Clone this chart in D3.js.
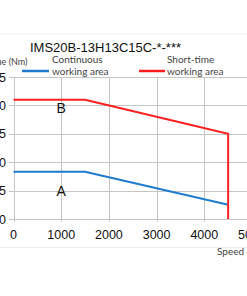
<!DOCTYPE html>
<html>
<head>
<meta charset="utf-8">
<script src="https://cdn.jsdelivr.net/npm/d3@7"></script>
<style>
  body { margin: 0; background: #fff; }
  svg { display: block; }
</style>
</head>
<body>
<script>
// values
var xTicks = [0, 1000, 2000, 3000, 4000, 5000];
var yTicks = [0, 5, 10, 15, 20, 25];
var contSpeed = [0, 1500, 4500];
var contTorque = [8.3, 8.3, 2.5];
var shortSpeed = [0, 1500, 4500, 4500];
var shortTorque = [21, 21, 15, 0];
var areaLabels = ["B", "A"];
var areaLabelX = [1000, 1000];
var areaLabelY = [19.5, 4.9];

var width = 247, height = 296;

var svg = d3.select("body").append("svg")
    .attr("width", width)
    .attr("height", height);

var x = d3.scaleLinear().domain([0, 5000]).range([13.5, 252]);
var y = d3.scaleLinear().domain([0, 25]).range([219, 77]);

// faint frame lines
svg.append("line").attr("x1", 0).attr("x2", width).attr("y1", 34).attr("y2", 34)
  .attr("style", "stroke:#f0f0f0;stroke-width:1px;");
svg.append("line").attr("x1", 0).attr("x2", width).attr("y1", 247.5).attr("y2", 247.5)
  .attr("style", "stroke:#ececec;stroke-width:1px;");

// grid
svg.selectAll(".hgrid")
  .data(yTicks)
  .enter().append("line")
  .attr("class", "hgrid")
  .attr("x1", 9).attr("x2", width)
  .attr("y1", function(d) { return Math.round(y(d)) + 0.5; })
  .attr("y2", function(d) { return Math.round(y(d)) + 0.5; })
  .attr("style", "stroke:#c6c6c6;stroke-width:1px;");

svg.selectAll(".vgrid")
  .data(xTicks)
  .enter().append("line")
  .attr("class", "vgrid")
  .attr("x1", function(d) { return Math.round(x(d)) + 0.5; })
  .attr("x2", function(d) { return Math.round(x(d)) + 0.5; })
  .attr("y1", y(25)).attr("y2", 222)
  .attr("style", "stroke:#c6c6c6;stroke-width:1px;");

// tick labels
svg.selectAll(".ylab")
  .data(yTicks)
  .enter().append("text")
  .attr("x", 6)
  .attr("y", function(d) { return y(d); })
  .attr("dy", ".36em")
  .attr("text-anchor", "end")
  .attr("style", "font: 12.5px 'Liberation Sans', Arial, sans-serif; fill:#111;")
  .text(function(d) { return d; });

svg.selectAll(".xlab")
  .data(xTicks)
  .enter().append("text")
  .attr("x", function(d) { return x(d); })
  .attr("y", 238.5)
  .attr("text-anchor", "middle")
  .attr("style", "font: 12.5px 'Liberation Sans', Arial, sans-serif; fill:#111;")
  .text(function(d) { return d; });

// axis titles
svg.append("text")
  .attr("x", 27.5).attr("y", 65)
  .attr("text-anchor", "end")
  .attr("style", "font: 9px Lato, sans-serif; fill:#444;")
  .text("Torque (Nm)");

svg.append("text")
  .attr("x", 217).attr("y", 255)
  .attr("style", "font: 10px Lato, sans-serif; fill:#444;")
  .text("Speed (rpm)");

// title
svg.append("text")
  .attr("x", 30).attr("y", 52)
  .attr("style", "font: 13px 'Liberation Sans', Arial, sans-serif; fill:#111;")
  .text("IMS20B-13H13C15C-*-***");

// legend
var legend = [
  { color: "#1f7bd0", x1: 22, x2: 49, tx: 52, t1: "Continuous", t2: "working area" },
  { color: "#ff1f1f", x1: 139, x2: 165, tx: 167, t1: "Short-time", t2: "working area" }
];
var lg = svg.selectAll(".legend").data(legend).enter().append("g");
lg.append("line")
  .attr("x1", function(d) { return d.x1; })
  .attr("x2", function(d) { return d.x2; })
  .attr("y1", 71).attr("y2", 71)
  .attr("style", function(d) { return "stroke:" + d.color + ";stroke-width:2.5px;"; });
lg.append("text")
  .attr("x", function(d) { return d.tx; })
  .attr("y", 63)
  .attr("style", "font: 10px Lato, sans-serif; fill:#444;")
  .text(function(d) { return d.t1; });
lg.append("text")
  .attr("x", function(d) { return d.tx; })
  .attr("y", 74.5)
  .attr("style", "font: 10px Lato, sans-serif; fill:#444;")
  .text(function(d) { return d.t2; });

// curves
var line = d3.line()
  .x(function(d) { return x(d[0]); })
  .y(function(d) { return y(d[1]); });

svg.append("path")
  .attr("d", line(d3.zip(contSpeed, contTorque)))
  .attr("style", "fill:none;stroke:#1f7bd0;stroke-width:2px;");

svg.append("path")
  .attr("d", line(d3.zip(shortSpeed, shortTorque)))
  .attr("style", "fill:none;stroke:#ff1f1f;stroke-width:2px;");

// area labels
svg.selectAll(".area-label")
  .data(d3.range(areaLabels.length))
  .enter().append("text")
  .attr("x", function(i) { return x(areaLabelX[i]); })
  .attr("y", function(i) { return y(areaLabelY[i]); })
  .attr("dy", ".36em")
  .attr("text-anchor", "middle")
  .attr("style", "font: 14px 'Liberation Sans', Arial, sans-serif; fill:#111;")
  .text(function(i) { return areaLabels[i]; });
</script>
</body>
</html>
